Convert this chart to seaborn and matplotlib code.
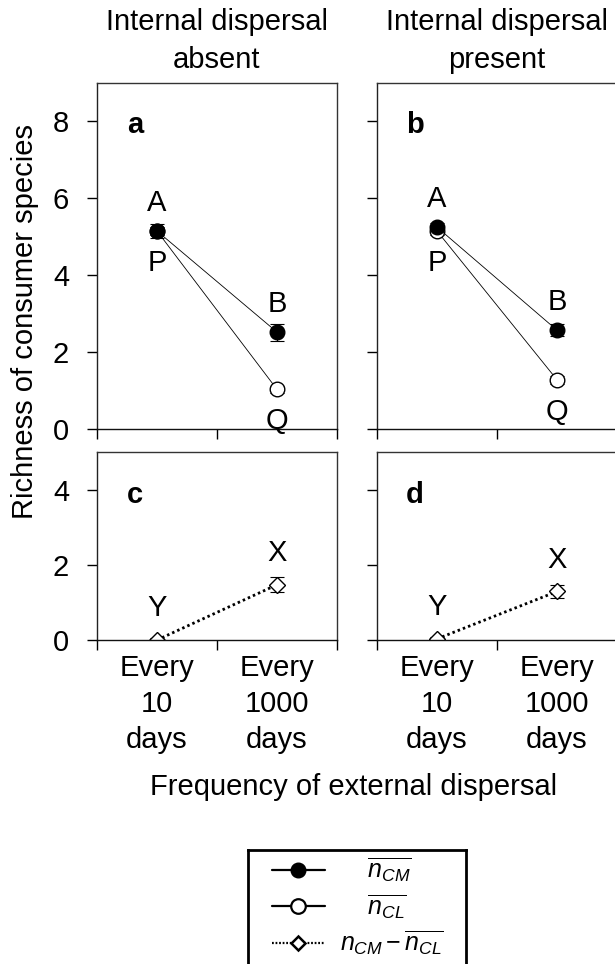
import pandas as pd
import seaborn as sns
import matplotlib.pyplot as plt
from matplotlib.lines import Line2D

# -------------------- Data --------------------

freq_pos = [1, 2]
freq_labels = ['Every\n10\ndays', 'Every\n1000\ndays']
panel_titles = ['Internal dispersal\nabsent', 'Internal dispersal\npresent']
panel_letters = ['a', 'b', 'c', 'd']

# mean richness of consumer species (top row)
ncm_absent = [5.15, 2.52]
ncl_absent = [5.15, 1.03]
ncm_present = [5.25, 2.57]
ncl_present = [5.15, 1.28]
ncm_err_absent = [0.18, 0.22]
ncl_err_absent = [0.10, 0.10]
ncm_err_present = [0.12, 0.15]
ncl_err_present = [0.10, 0.10]

# difference n_CM - n_CL (bottom row)
diff_absent = [0.0, 1.47]
diff_present = [0.03, 1.29]
diff_err_absent = [0.05, 0.20]
diff_err_present = [0.05, 0.18]

# letters marking significance groups
ncm_groups = ['A', 'B']
ncl_groups = ['P', 'Q']
diff_groups = ['Y', 'X']

FS = 21

# -------------------- Style --------------------

sns.set_theme(style='ticks')
plt.rcParams['font.family'] = ['Liberation Sans', 'DejaVu Sans']
plt.rcParams['mathtext.fontset'] = 'custom'
plt.rcParams['mathtext.rm'] = 'Liberation Sans'
plt.rcParams['mathtext.it'] = 'Liberation Sans:italic'
plt.rcParams['font.size'] = FS
plt.rcParams['axes.edgecolor'] = '#333333'
plt.rcParams['axes.linewidth'] = 1.0
for key in ['text.color', 'axes.labelcolor', 'xtick.color', 'ytick.color']:
    plt.rcParams[key] = 'black'


def draw_series(ax, vals, errs, filled, marker='o', ms=10.5, ls='-', lw=0.6):
    df = pd.DataFrame({'freq': freq_pos, 'val': vals})
    ax.errorbar(freq_pos, vals, yerr=errs, fmt='none', ecolor='black',
                elinewidth=0.8, capsize=5, capthick=0.8, zorder=1)
    sns.lineplot(data=df, x='freq', y='val', ax=ax, color='black',
                 estimator=None, errorbar=None, linewidth=lw, linestyle=ls,
                 marker=marker, markersize=ms,
                 markerfacecolor='black' if filled else 'white',
                 markeredgecolor='black', markeredgewidth=1.0)


def label_points(ax, vals, labels, offset):
    for x, y, lab in zip(freq_pos, vals, labels):
        ax.annotate(lab, (x, y), xytext=(0, offset), textcoords='offset points',
                    ha='center', va='center', fontsize=FS)


def style_axes(ax, ylim, yticks, show_ylabels, show_xlabels):
    ax.set_xlim(0.5, 2.5)
    ax.set_ylim(*ylim)
    ax.set_yticks(yticks)
    ax.set_xticks([0.5, 1.5, 2.5])
    ax.set_xticklabels([])
    ax.set_xlabel('')
    ax.set_ylabel('')
    if not show_ylabels:
        ax.set_yticklabels([])
    if show_xlabels:
        ax.set_xticks(freq_pos, minor=True)
        ax.set_xticklabels(freq_labels, minor=True, linespacing=1.36)
    ax.tick_params(axis='both', which='major', direction='out', length=7,
                   width=1, color='black', labelsize=FS, pad=13)
    ax.tick_params(axis='x', which='minor', length=0, pad=10, labelsize=FS)
    for side in ['top', 'right', 'left', 'bottom']:
        ax.spines[side].set_visible(True)
    ax.spines['left'].set_color('#222222')
    ax.spines['bottom'].set_color('#111111')


# -------------------- Figure --------------------

fig = plt.figure(figsize=(6.15, 9.64), dpi=100)
W, H = 615, 964

lefts = [97, 377]
top_axes = [fig.add_axes([l / W, 1 - 429 / H, 240 / W, 346 / H]) for l in lefts]
bot_axes = [fig.add_axes([l / W, 1 - 640 / H, 240 / W, 188 / H]) for l in lefts]

top_data = [(ncm_absent, ncm_err_absent, ncl_absent, ncl_err_absent),
            (ncm_present, ncm_err_present, ncl_present, ncl_err_present)]
bot_data = [(diff_absent, diff_err_absent), (diff_present, diff_err_present)]

for i, ax in enumerate(top_axes):
    ncm, ncm_err, ncl, ncl_err = top_data[i]
    draw_series(ax, ncl, ncl_err, filled=False)
    draw_series(ax, ncm, ncm_err, filled=True)
    label_points(ax, ncm, ncm_groups, 20)
    label_points(ax, ncl, ncl_groups, -23)
    style_axes(ax, (0, 9), [0, 2, 4, 6, 8], i == 0, False)
    ax.set_title(panel_titles[i], fontsize=FS, pad=11, linespacing=1.44)
    ax.text(0.158, 0.88, panel_letters[i], transform=ax.transAxes,
            fontsize=FS, fontweight='bold', ha='center', va='center')

for i, ax in enumerate(bot_axes):
    diff, diff_err = bot_data[i]
    draw_series(ax, diff, diff_err, filled=False, marker='D', ms=8,
                ls=(0, (0.9, 1.1)), lw=2.0)
    label_points(ax, diff, diff_groups, 23)
    style_axes(ax, (0, 5), [0, 2, 4], i == 0, True)
    ax.text(0.158, 0.77, panel_letters[i + 2], transform=ax.transAxes,
            fontsize=FS, fontweight='bold', ha='center', va='center')

fig.text(25 / W, 1 - 322 / H, 'Richness of consumer species', rotation=90,
         ha='center', va='center', fontsize=FS)
fig.text(354 / W, 1 - 787 / H, 'Frequency of external dispersal',
         ha='center', va='center', fontsize=FS)

# legend: framed box partly cut by the bottom edge of the figure
leg_ax = fig.add_axes([248 / W, -10 / H, 218 / W, (964 - 850 + 10) / H])
leg_ax.set_xticks([])
leg_ax.set_yticks([])
leg_ax.patch.set_alpha(0)
for side in ['top', 'right', 'left', 'bottom']:
    leg_ax.spines[side].set_color('black')
    leg_ax.spines[side].set_linewidth(2.0)

handles = [
    Line2D([], [], color='black', lw=1.6, marker='o', ms=10.5,
           mfc='black', mec='black'),
    Line2D([], [], color='black', lw=1.6, marker='o', ms=10.5,
           mfc='white', mec='black', mew=1.6),
    Line2D([], [], color='black', lw=1.6, ls=(0, (0.8, 0.8)), marker='D',
           ms=7.5, mfc='white', mec='black', mew=1.8),
]
labels = ['    $\\overline{n_{CM}}$',
          '    $\\overline{n_{CL}}$',
          '$n_{CM}-\\overline{n_{CL}}$']
leg_ax.legend(handles, labels, loc='upper left',
              bbox_to_anchor=((272 - 248) / 218, 1 - 6 / 124),
              borderaxespad=0, borderpad=0, frameon=False, fontsize=18,
              handlelength=2.1, handletextpad=0.6, labelspacing=0.3)

fig.savefig('out.png', dpi=100)
